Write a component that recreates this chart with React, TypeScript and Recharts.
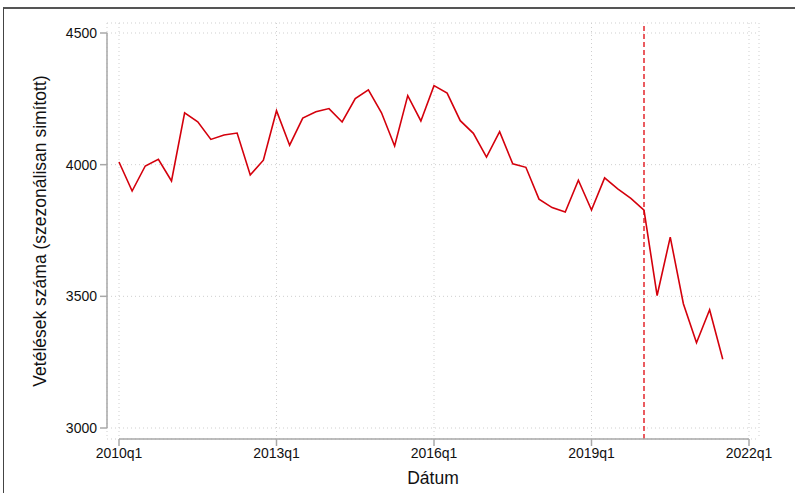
import React from "react";
import {
  LineChart,
  Line,
  XAxis,
  YAxis,
  CartesianGrid,
  ReferenceLine,
} from "recharts";

// quarterly series, 2010q1 .. 2021q3
const startYear = 2010;
const values = [
  4010, 3900, 3995, 4020, 3938, 4197, 4163, 4096, 4113, 4120, 3961, 4017,
  4205, 4074, 4177, 4201, 4213, 4162, 4251, 4284, 4197, 4071, 4262, 4166,
  4300, 4272, 4167, 4119, 4029, 4125, 4003, 3990, 3869, 3837, 3820, 3941,
  3828, 3950, 3908, 3872, 3827, 3503, 3725, 3472, 3324, 3449, 3261,
];
const quarterLabels = values.map(
  (_, i) => `${startYear + Math.floor(i / 4)}q${(i % 4) + 1}`
);
const xTicks = [0, 12, 24, 36, 48];
const yTicks = [3000, 3500, 4000, 4500];
const breakQuarter = 40; // 2020q1

const data = values.map((v, i) => ({ t: i, label: quarterLabels[i], value: v }));

const fmtQuarter = (t: number) =>
  `${startYear + Math.floor(t / 4)}q${(t % 4) + 1}`;

const font = "'Liberation Sans', Arial, Helvetica, sans-serif";
const axisGray = "#a8a8a8";

export default function App() {
  return (
    <div
      style={{
        position: "absolute",
        left: 0,
        top: 0,
        width: 795,
        height: 493,
        background: "#fff",
        overflow: "hidden",
        fontFamily: font,
      }}
    >
      {/* outer graph frame, cut off at the right and bottom */}
      <div
        style={{
          position: "absolute",
          left: 3,
          top: 7,
          width: 900,
          height: 600,
          borderTop: "2px solid #555",
          borderLeft: "1px solid #444",
        }}
      />
      <div style={{ position: "absolute", left: 0, top: 0 }}>
        <LineChart
          width={795}
          height={493}
          data={data}
          margin={{ top: 23, right: 36, bottom: 14, left: 0 }}
        >
          <CartesianGrid
            stroke="#cfcfcf"
            strokeDasharray="1 3"
            strokeWidth={1}
          />
          <XAxis
            dataKey="t"
            type="number"
            domain={[0, 48]}
            ticks={xTicks}
            tickFormatter={fmtQuarter}
            padding={{ left: 12, right: 10 }}
            height={40}
            axisLine={{ stroke: axisGray, strokeWidth: 1.5, strokeDasharray: "0 12 630 1000" }}
            tickLine={{ stroke: axisGray, strokeWidth: 1.5 }}
            tickSize={7}
            tickMargin={2}
            tick={{ fontSize: 14, fill: "#111", fontFamily: font }}
            label={{
              value: "Dátum",
              position: "bottom",
              offset: -7,
              style: { fontSize: 17.5, fill: "#111", fontFamily: font },
            }}
          />
          <YAxis
            type="number"
            domain={[3000, 4500]}
            ticks={yTicks}
            padding={{ top: 10, bottom: 11 }}
            width={107}
            axisLine={{ stroke: axisGray, strokeWidth: 1.5, strokeDasharray: "0 10 395 1000" }}
            tickLine={{ stroke: axisGray, strokeWidth: 1.5 }}
            tickSize={7}
            tickMargin={3}
            tick={{ fontSize: 14, fill: "#111", fontFamily: font }}
            label={{
              value: "Vetélések száma (szezonálisan simított)",
              angle: -90,
              position: "insideLeft",
              offset: 40,
              style: {
                fontSize: 17.5,
                fill: "#111",
                fontFamily: font,
                textAnchor: "middle",
              },
            }}
          />
          <ReferenceLine
            x={breakQuarter}
            stroke="#e4262c"
            strokeWidth={1.5}
            strokeDasharray="5 3"
          />
          <Line
            type="linear"
            dataKey="value"
            stroke="#d4000c"
            strokeWidth={1.6}
            dot={false}
            isAnimationActive={false}
          />
        </LineChart>
      </div>
    </div>
  );
}
